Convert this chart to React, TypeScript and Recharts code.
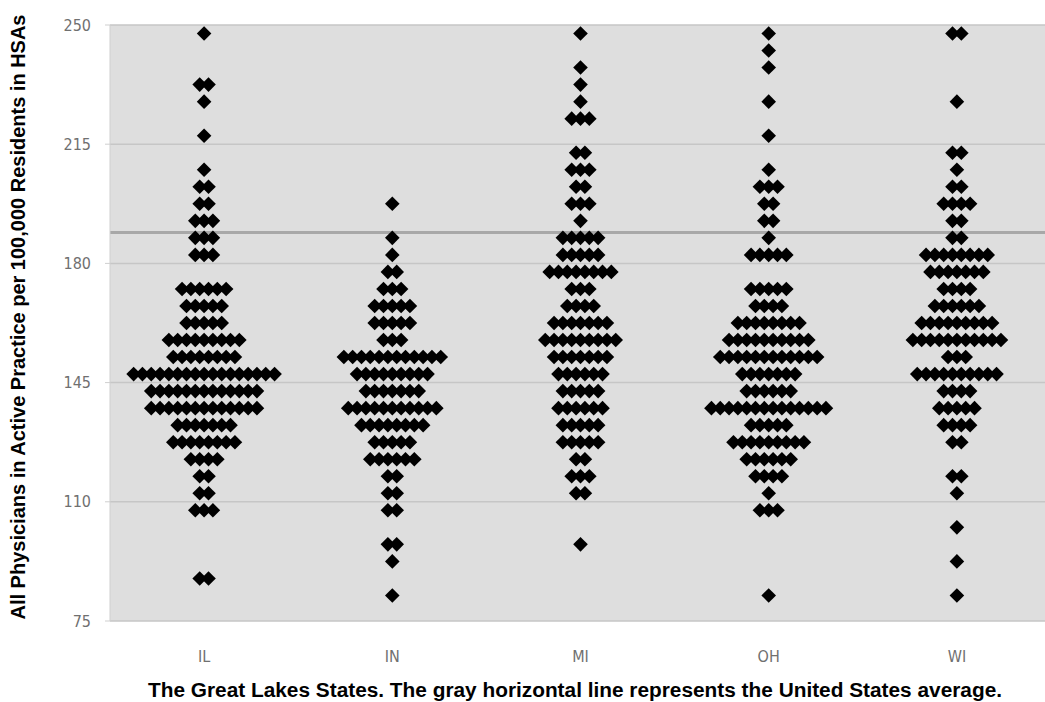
import React from 'react';
import { ScatterChart, Scatter, XAxis, YAxis, CartesianGrid, ReferenceLine, Label } from 'recharts';

const STATES = ['IL', 'IN', 'MI', 'OH', 'WI'];
const Y_TICKS = [75, 110, 145, 180, 215, 250];
const US_AVERAGE = 189.1;

// Value bins (bin centres), top to bottom
const BINS = [
  247.5, 242.5, 237.5, 232.5, 227.5, 222.5, 217.5, 212.5, 207.5, 202.5,
  197.5, 192.5, 187.5, 182.5, 177.5, 172.5, 167.5, 162.5, 157.5, 152.5,
  147.5, 142.5, 137.5, 132.5, 127.5, 122.5, 117.5, 112.5, 107.5, 102.5,
  97.5, 92.5, 87.5, 82.5,
];

// Number of HSAs in each bin, per state (aligned with BINS)
const IL_COUNTS = [1, 0, 0, 2, 1, 0, 1, 0, 1, 2, 2, 3, 3, 3, 0, 6, 5, 5, 9, 8, 17, 13, 13, 7, 8, 4, 2, 2, 3, 0, 0, 0, 2, 0];
const IN_COUNTS = [0, 0, 0, 0, 0, 0, 0, 0, 0, 0, 1, 0, 1, 1, 2, 3, 5, 5, 3, 12, 9, 7, 11, 8, 5, 6, 2, 2, 2, 0, 2, 1, 0, 1];
const MI_COUNTS = [1, 0, 1, 1, 1, 3, 0, 2, 3, 2, 3, 1, 5, 5, 8, 3, 4, 7, 9, 7, 6, 5, 6, 5, 5, 2, 3, 2, 0, 0, 1, 0, 0, 0];
const OH_COUNTS = [1, 1, 1, 0, 1, 0, 1, 0, 1, 3, 2, 2, 1, 5, 0, 5, 4, 8, 10, 12, 7, 6, 14, 5, 9, 6, 4, 1, 3, 0, 0, 0, 0, 1];
const WI_COUNTS = [2, 0, 0, 0, 1, 0, 0, 2, 1, 2, 4, 2, 2, 8, 7, 4, 6, 9, 11, 3, 10, 4, 5, 4, 2, 0, 2, 1, 0, 1, 0, 1, 0, 1];

const ALL_COUNTS = [IL_COUNTS, IN_COUNTS, MI_COUNTS, OH_COUNTS, WI_COUNTS];

// horizontal spacing between stacked markers (in category units)
const STEP = 0.0468;

type Pt = { x: number; y: number; state: string };

function buildPoints(): Pt[] {
  const pts: Pt[] = [];
  ALL_COUNTS.forEach((counts, si) => {
    counts.forEach((n, bi) => {
      for (let i = 0; i < n; i++) {
        pts.push({ x: si + 1 + (i - (n - 1) / 2) * STEP, y: BINS[bi], state: STATES[si] });
      }
    });
  });
  return pts;
}

const POINTS = buildPoints();

const TICK_FONT = '"DejaVu Sans Condensed", "Liberation Sans Narrow", sans-serif';
const TITLE_FONT = '"Liberation Sans", Arial, sans-serif';

const Diamond = (props: any) => {
  const { cx, cy } = props;
  const r = 7.3;
  return (
    <path
      d={`M${cx},${cy - r}L${cx + r},${cy}L${cx},${cy + r}L${cx - r},${cy}Z`}
      fill="#000"
    />
  );
};

export default function App() {
  return (
    <div
      style={{
        position: 'absolute',
        left: 0,
        top: 0,
        width: 1045,
        height: 702,
        overflow: 'hidden',
        background: '#fff',
      }}
    >
      <ScatterChart width={1060} height={702} margin={{ top: 25, right: 9, bottom: 0, left: 0 }}>
        <CartesianGrid vertical={false} fill="#dedede" stroke="#c6c6c6" strokeWidth={1.5} />
        <XAxis
          type="number"
          dataKey="x"
          domain={[0.5, 5.5]}
          ticks={[1, 2, 3, 4, 5]}
          interval={0}
          tickFormatter={(v: number) => STATES[Math.round(v) - 1]}
          axisLine={false}
          tickLine={false}
          tickSize={0}
          tickMargin={30}
          height={81}
          tick={{ fill: '#707070', fontSize: 16, fontFamily: TICK_FONT }}
        >
          <Label
            content={() => (
              <text
                x={575}
                y={690}
                textAnchor="middle"
                dominantBaseline="central"
                fontFamily={TITLE_FONT}
                fontWeight="bold"
                fontSize={20}
                textLength={854}
                lengthAdjust="spacingAndGlyphs"
                fill="#000"
              >
                The Great Lakes States. The gray horizontal line represents the United States average.
              </text>
            )}
          />
        </XAxis>
        <YAxis
          type="number"
          dataKey="y"
          domain={[75, 250]}
          ticks={Y_TICKS}
          interval={0}
          width={110}
          axisLine={{ stroke: '#cfcfcf' }}
          tickLine={{ stroke: '#cfcfcf' }}
          tickSize={5}
          tickMargin={14}
          tick={{ fill: '#707070', fontSize: 16, fontFamily: TICK_FONT }}
        >
          <Label
            content={() => (
              <text
                x={18}
                y={317}
                transform="rotate(-90 18 317)"
                textAnchor="middle"
                dominantBaseline="central"
                fontFamily={TITLE_FONT}
                fontWeight="bold"
                fontSize={20}
                textLength={605}
                lengthAdjust="spacingAndGlyphs"
                fill="#000"
              >
                All Physicians in Active Practice per 100,000 Residents in HSAs
              </text>
            )}
          />
        </YAxis>
        <ReferenceLine y={US_AVERAGE} stroke="#a8a8a8" strokeWidth={3} />
        <Scatter data={POINTS} shape={Diamond} isAnimationActive={false} />
      </ScatterChart>
    </div>
  );
}
